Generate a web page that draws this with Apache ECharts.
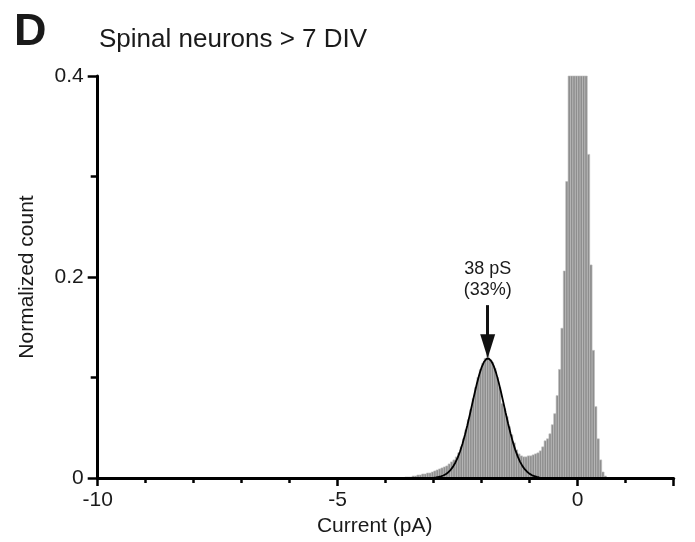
<!DOCTYPE html>
<html>
<head>
<meta charset="utf-8">
<script src="https://cdn.jsdelivr.net/npm/echarts@6/dist/echarts.min.js"></script>
<style>
html,body{margin:0;padding:0;background:#fff;}
#chart{width:695px;height:542px;}
</style>
</head>
<body>
<div id="chart"></div>
<script>
// Histogram definition: bins of 0.05 pA starting at -3.6 pA
const binStart = -3.6;
const binWidth = 0.05;
const normalizedCount = [
  0.001,0.001,0.001,0.002,0.002,0.003,0.003,0.004,0.004,0.005,
  0.005,0.006,0.007,0.008,0.009,0.010,0.011,0.012,0.014,0.016,
  0.018,0.021,0.025,0.031,0.039,0.048,0.058,0.068,0.079,0.090,
  0.100,0.108,0.114,0.119,0.124,0.118,0.115,0.109,0.100,0.090,
  0.074,0.069,0.061,0.051,0.043,0.035,0.028,0.024,0.022,0.021,
  0.021,0.022,0.022,0.023,0.024,0.025,0.027,0.031,0.037,0.039,
  0.044,0.053,0.064,0.082,0.108,0.149,0.206,0.295,0.430,0.520,
  0.630,0.710,0.740,0.660,0.550,0.450,0.322,0.212,0.127,0.071,
  0.039,0.018,0.006,0.002
];
// Gaussian fit curve
const fitCurrent = [
  -3.0,-2.95,-2.9,-2.85,-2.8,-2.75,-2.7,-2.65,-2.6,-2.55,
  -2.5,-2.45,-2.4,-2.35,-2.3,-2.25,-2.2,-2.15,-2.1,-2.05,
  -2.0,-1.95,-1.9,-1.85,-1.8,-1.75,-1.7,-1.65,-1.6,-1.55,
  -1.5,-1.45,-1.4,-1.35,-1.3,-1.25,-1.2,-1.15,-1.1,-1.05,
  -1.0,-0.95,-0.9,-0.85,-0.8
];
const fitCount = [
  0.0004,0.0007,0.0011,0.0017,0.0025,0.0038,0.0055,0.0079,0.0111,0.0152,
  0.0203,0.0266,0.0341,0.0427,0.0522,0.0625,0.0733,0.0839,0.0940,0.1030,
  0.1104,0.1157,0.1185,0.1188,0.1164,0.1116,0.1046,0.0959,0.0860,0.0754,
  0.0647,0.0542,0.0445,0.0357,0.0280,0.0215,0.0161,0.0118,0.0085,0.0060,
  0.0041,0.0027,0.0018,0.0012,0.0007
];
// Annotation
const peakCurrent = -1.875;
const arrowFrom = 0.172;
const arrowTo = 0.131;
const annotationY = 0.197;
const annotationText = '38 pS\n(33%)';
// Axes
const xMin = -10, xMax = 2, xInterval = 5;
const xTickLabels = ['-10', '-5', '0'];
const yMin = 0, yMax = 0.4, yInterval = 0.2;
const yTickLabels = ['0', '0.2', '0.4'];
const titleText = 'Spinal neurons > 7 DIV';
const panelLetter = 'D';
const xName = 'Current (pA)';
const yName = 'Normalized count';

const FONT = '"Liberation Sans", Arial, sans-serif';

const histData = normalizedCount.map((v, i) => {
  const lo = +(binStart + i * binWidth).toFixed(4);
  const hi = +(binStart + (i + 1) * binWidth).toFixed(4);
  return [lo, hi, v];
});
const fitData = fitCurrent.map((x, i) => [x, fitCount[i]]);

const chart = echarts.init(document.getElementById('chart'), null, {renderer: 'canvas'});

const axisLineStyle = {color: '#000', width: 3};

chart.setOption({
  animation: false,
  backgroundColor: '#fff',
  grid: {left: 97.7, right: 21.3, top: 76, bottom: 64, containLabel: false},
  graphic: [
    {type: 'text', left: 14, top: 10, style: {text: panelLetter, font: 'bold 45px ' + FONT, fill: '#1a1a1a'}},
    {type: 'text', left: 99, top: 27, style: {text: titleText, font: '26px ' + FONT, fill: '#1a1a1a'}}
  ],
  xAxis: {
    type: 'value', min: xMin, max: xMax, interval: xInterval, z: 10,
    name: xName, nameLocation: 'middle', nameGap: 36,
    nameTextStyle: {fontFamily: FONT, fontSize: 21, color: '#1a1a1a', padding: [0, 22, 0, 0]},
    axisLine: {show: true, onZero: false, lineStyle: axisLineStyle},
    axisTick: {show: true, inside: false, length: 8, lineStyle: {color: '#000', width: 2.5}},
    minorTick: {show: true, splitNumber: 5, length: 5, lineStyle: {color: '#000', width: 2.5}},
    axisLabel: {fontFamily: FONT, fontSize: 21, color: '#1a1a1a', margin: 12,
      formatter: v => (xTickLabels.indexOf(String(v)) >= 0 ? String(v) : '')},
    splitLine: {show: false}, minorSplitLine: {show: false}
  },
  yAxis: {
    type: 'value', min: yMin, max: yMax, interval: yInterval, z: 10,
    name: yName, nameLocation: 'middle', nameGap: 60,
    nameTextStyle: {fontFamily: FONT, fontSize: 21, color: '#1a1a1a'},
    axisLine: {show: true, onZero: false, lineStyle: axisLineStyle},
    axisTick: {show: true, inside: false, length: 10, lineStyle: {color: '#000', width: 2.5}},
    minorTick: {show: true, splitNumber: 2, length: 7, lineStyle: {color: '#000', width: 2.5}},
    axisLabel: {fontFamily: FONT, fontSize: 21, color: '#1a1a1a', margin: 14,
      formatter: v => { const s = String(+(+v).toFixed(1)); return yTickLabels.indexOf(s) >= 0 ? s : ''; }},
    splitLine: {show: false}, minorSplitLine: {show: false}
  },
  series: [
    {
      type: 'custom', z: 2,
      data: histData,
      encode: {x: [0, 1], y: 2},
      renderItem: function (params, api) {
        const lo = api.value(0), hi = api.value(1), v = api.value(2);
        const p0 = api.coord([lo, v]);
        const p1 = api.coord([hi, 0]);
        const cs = params.coordSys;
        const rect = echarts.graphic.clipRectByRect(
          {x: p0[0], y: p0[1], width: p1[0] - p0[0], height: p1[1] - p0[1]},
          {x: cs.x, y: cs.y, width: cs.width, height: cs.height});
        if (!rect) return;
        return {type: 'rect', shape: rect,
          style: {fill: '#8e8e8e', stroke: '#bdbdbd', lineWidth: 0.6}};
      }
    },
    {
      type: 'line', z: 3,
      data: fitData, showSymbol: false, symbol: 'none', smooth: false,
      lineStyle: {color: '#000', width: 1.8},
      markLine: {
        silent: true, symbol: ['none', 'triangle'], symbolSize: [15, 24],
        lineStyle: {color: '#111', width: 3, type: 'solid'},
        label: {show: false},
        data: [[{coord: [peakCurrent, arrowFrom]}, {coord: [peakCurrent, arrowTo]}]]
      },
      markPoint: {
        silent: true, symbol: 'rect', symbolSize: 1,
        itemStyle: {color: 'rgba(0,0,0,0)'},
        label: {show: true, position: 'inside', formatter: annotationText,
          fontFamily: FONT, fontSize: 18, lineHeight: 21, color: '#1a1a1a'},
        data: [{coord: [peakCurrent, annotationY]}]
      }
    }
  ]
});
</script>
</body>
</html>
